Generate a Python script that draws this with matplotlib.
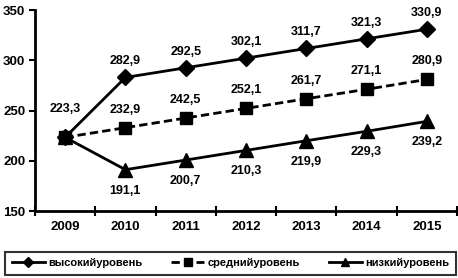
import matplotlib
matplotlib.use("Agg")
import matplotlib.pyplot as plt
import numpy as np

years = ["2009", "2010", "2011", "2012", "2013", "2014", "2015"]
high = [223.3, 282.9, 292.5, 302.1, 311.7, 321.3, 330.9]
mid = [223.3, 232.9, 242.5, 252.1, 261.7, 271.1, 280.9]
low = [223.3, 191.1, 200.7, 210.3, 219.9, 229.3, 239.2]
series_names = ["высокийуровень", "среднийуровень", "низкийуровень"]
yticks = [150, 200, 250, 300, 350]

plt.rcParams['font.family'] = ['Liberation Sans', 'DejaVu Sans']
plt.rcParams['font.weight'] = 'bold'

fig = plt.figure(figsize=(4.58, 2.78), dpi=100)
ax = fig.add_axes([35/458, 1-211/278, 422/458, 201/278])
x = np.arange(len(years))

ax.plot(x, high, color='black', lw=2, marker='D', ms=8, label=series_names[0])
ax.plot(x, mid, color='black', lw=2, ls=(0, (3, 1.5)), marker='s', ms=8.5, label=series_names[1])
ax.plot(x, low, color='black', lw=2, marker='^', ms=9.5, label=series_names[2])

def fmt(v):
    return f"{v:.1f}".replace('.', ',')

for i, v in enumerate(high):
    off = 28 if i == 0 else 16
    ax.annotate(fmt(v), (x[i], v), xytext=(0, off), textcoords='offset pixels',
                ha='center', va='center', fontsize=9, fontweight='bold')
for i, v in enumerate(mid):
    if i == 0:
        continue
    ax.annotate(fmt(v), (x[i], v), xytext=(0, 18), textcoords='offset pixels',
                ha='center', va='center', fontsize=9, fontweight='bold')
for i, v in enumerate(low):
    if i == 0:
        continue
    ax.annotate(fmt(v), (x[i], v), xytext=(0, -21), textcoords='offset pixels',
                ha='center', va='center', fontsize=9, fontweight='bold')

ax.set_xlim(-0.5, len(years) - 0.5)
ax.set_ylim(150, 350)
ax.set_yticks(yticks)
ax.set_yticklabels([str(t) for t in yticks], fontsize=9.5, fontweight='bold')
ax.set_xticks(x)
ax.set_xticklabels(years, fontsize=9.5, fontweight='bold')
ax.set_xticks(np.arange(-0.5, len(years)), minor=True)
ax.tick_params(axis='x', which='major', length=0, pad=7)
ax.tick_params(axis='x', which='minor', length=7, width=1.5, direction='inout')
ax.tick_params(axis='y', length=4, width=1.5, direction='out', pad=3)
for s in ['top', 'right']:
    ax.spines[s].set_visible(False)
ax.spines['left'].set_linewidth(2)
ax.spines['bottom'].set_linewidth(2)

leg = fig.legend(loc='lower left', bbox_to_anchor=(5/458, 3/278, 451/458, 29/278),
                 mode='expand', ncol=3, frameon=True, fancybox=False,
                 prop={'size': 8, 'weight': 'bold'}, handlelength=3,
                 borderaxespad=0, borderpad=0.6, columnspacing=0.8, handletextpad=0.3,
                 markerscale=0.6)
leg.get_frame().set_edgecolor('black')
leg.get_frame().set_linewidth(1.5)

fig.savefig("out.png", dpi=100)
